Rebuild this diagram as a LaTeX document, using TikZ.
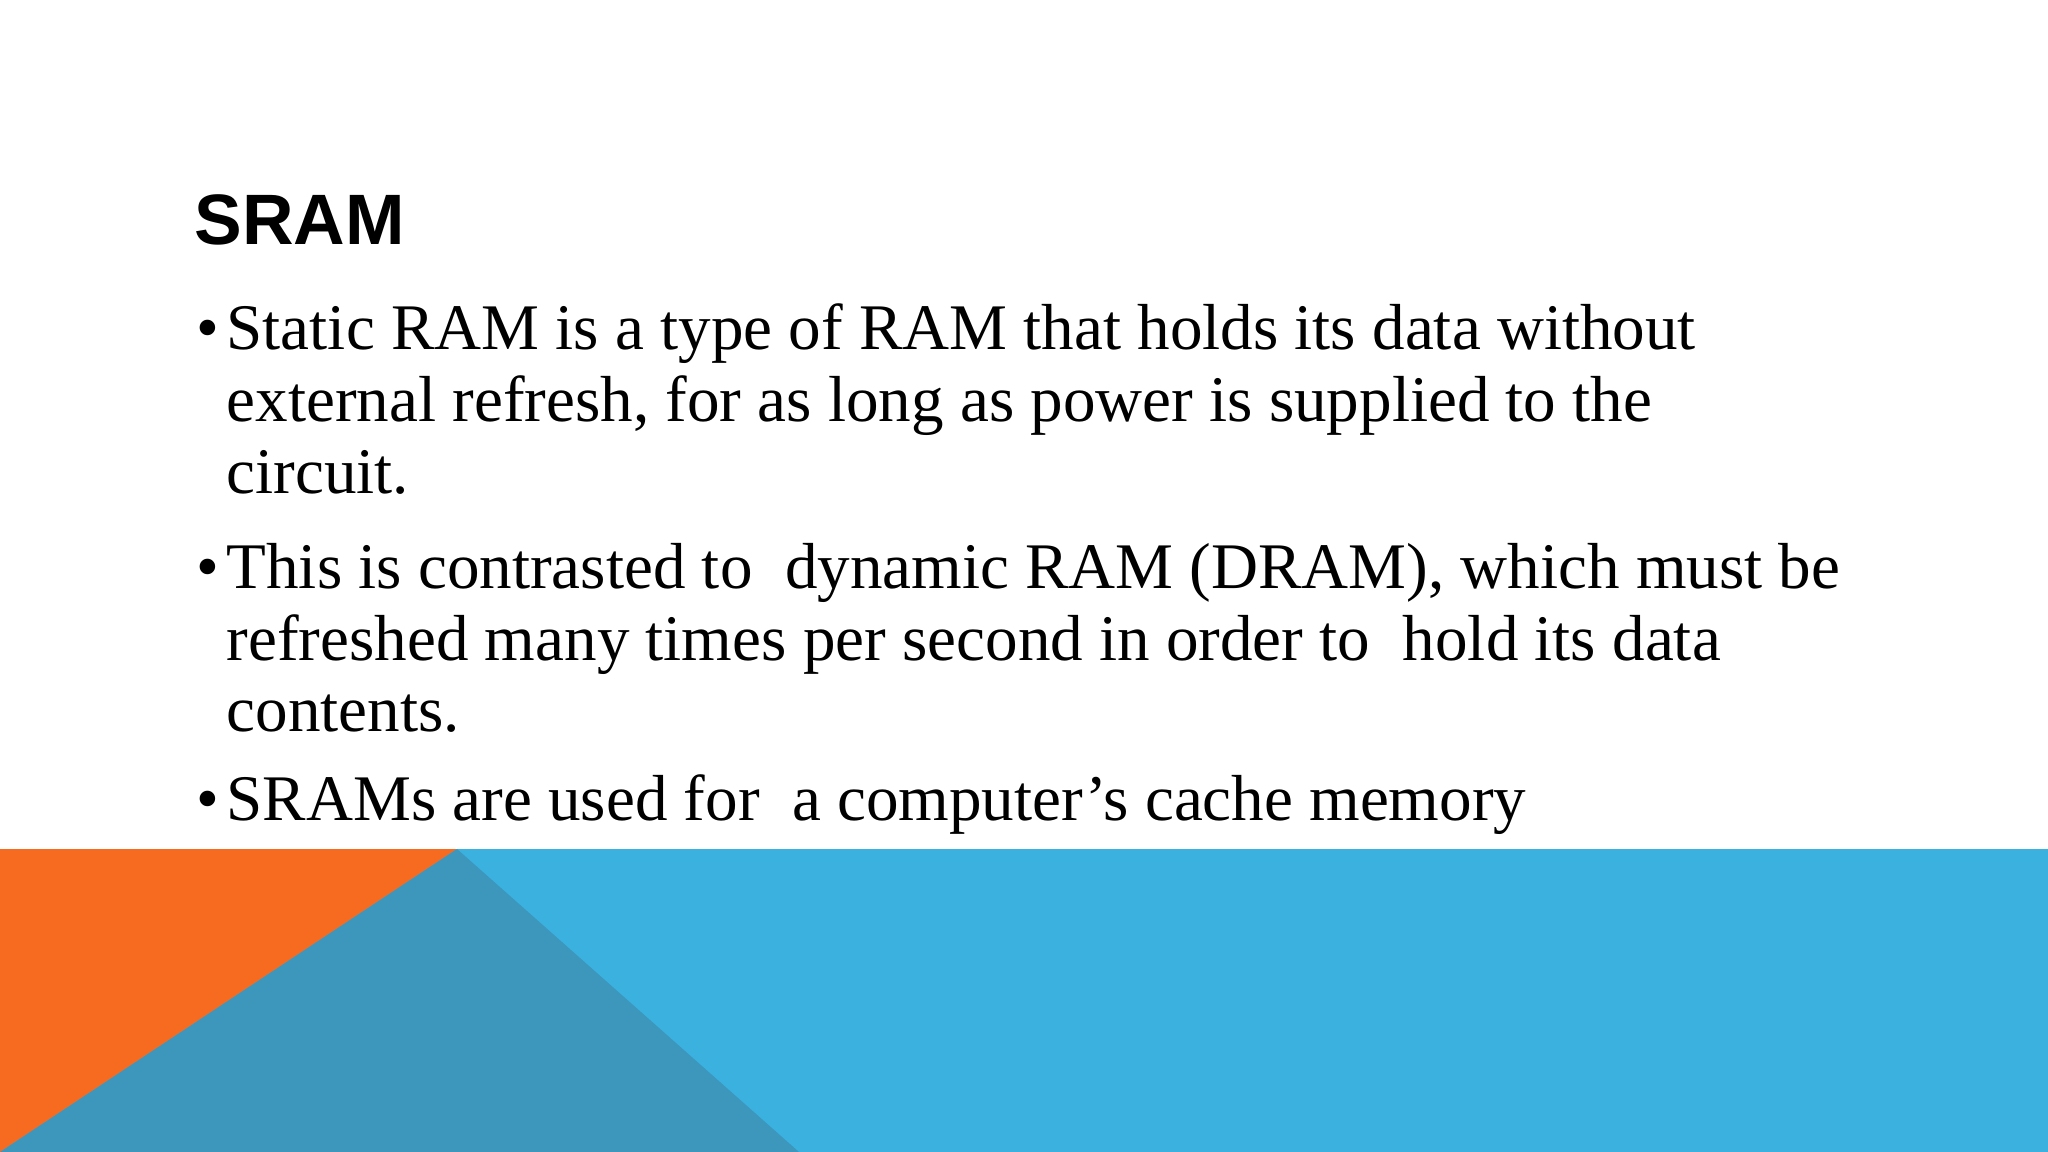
\documentclass[tikz,border=0pt]{standalone}
\usepackage{fontspec}
\setmainfont{Liberation Serif}
\setsansfont{Liberation Sans}
\definecolor{borange}{HTML}{F76B20}
\definecolor{bblue}{HTML}{3BB1DF}
\definecolor{bteal}{HTML}{3D96BB}
\begin{document}
\begin{tikzpicture}[x=0.01cm,y=-0.01cm,
  txt/.style={anchor=base west,inner sep=0,font=\fontsize{18.5}{22}\selectfont},
  bul/.style={anchor=base west,inner sep=0,font=\fontsize{18.5}{22}\selectfont}]
\useasboundingbox (0,0) rectangle (2048,1152);
\fill[white] (0,0) rectangle (2048,1152);
\fill[bblue] (0,849) rectangle (2048,1152);
\fill[borange] (0,849) -- (457,849) -- (0,1152) -- cycle;
\fill[bteal] (457,849) -- (799,1152) -- (0,1152) -- cycle;
\node[anchor=base west,inner sep=0,font=\sffamily\bfseries\fontsize{20.3}{24}\selectfont] (title) at (194,245) {SRAM};
\node[bul] (b1) at (196,350) {•};
\node[txt] (l1) at (226,350) {Static RAM is a type of RAM that holds its data without};
\node[txt] (l2) at (226,422) {external refresh, for as long as power is supplied to the};
\node[txt] (l3) at (226,494) {circuit.};
\node[bul] (b2) at (196,588) {•};
\node[txt] (l4) at (226,588) {This is contrasted to\ \ dynamic RAM (DRAM), which must be};
\node[txt] (l5) at (226,660) {refreshed many times per second in order to\ \ hold its data};
\node[txt] (l6) at (226,731) {contents.};
\node[bul] (b3) at (196,820) {•};
\node[txt] (l7) at (226,820) {SRAMs are used for\ \ a computer\symbol{39}s cache memory};
\end{tikzpicture}
\end{document}
